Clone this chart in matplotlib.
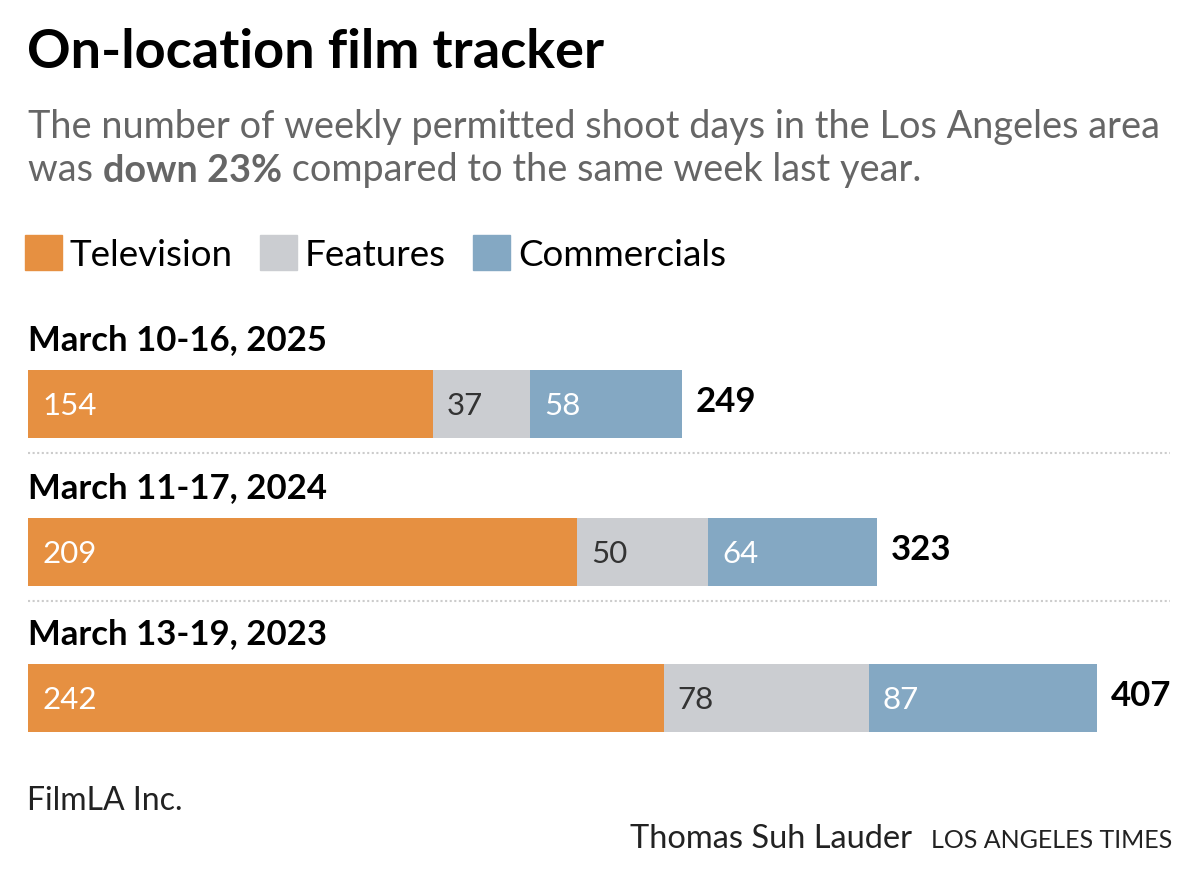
import matplotlib
matplotlib.use("Agg")
import matplotlib.pyplot as plt
from matplotlib.patches import Rectangle

#---- Data --------------------------------------------------------------------#

weeks = ["March 10-16, 2025", "March 11-17, 2024", "March 13-19, 2023"]
television = [154, 209, 242]
features = [37, 50, 78]
commercials = [58, 64, 87]
series_names = ["Television", "Features", "Commercials"]

#---- Style -------------------------------------------------------------------#

colors = ["#e69041", "#cbcdd1", "#84a8c3"]
label_colors = ["white", "#333333", "white"]
FONT = "Lato"
W, H = 1200, 881
px_per_unit = 2.627          # bar scale in pixels per shoot day
left = 28

plt.rcParams["font.family"] = [FONT, "DejaVu Sans"]

fig = plt.figure(figsize=(W / 100, H / 100), dpi=100)
ax = fig.add_axes([0, 0, 1, 1])
ax.set_xlim(-left / px_per_unit, (W - left) / px_per_unit)
ax.set_ylim(H, 0)            # y in pixels, top down
ax.axis("off")

def fx(x):
    return x / W

def fy(y):
    return 1 - y / H

#---- Header ------------------------------------------------------------------#

fig.text(fx(27), fy(68), "On-location film tracker", fontsize=39,
         fontweight="bold", color="black", va="baseline")
sub_kw = dict(fontsize=27.3, color="#666666", va="baseline")
fig.text(fx(28), fy(138),
         "The number of weekly permitted shoot days in the Los Angeles area",
         fontweight="normal", **sub_kw)
t = fig.text(fx(28), fy(181), "was ", fontweight="normal", **sub_kw)
fig.canvas.draw()
t2 = ax.annotate("down 23%", xycoords=t, xy=(1, 0), va="bottom",
                 fontsize=27.3, fontweight="bold", color="#666666")
fig.canvas.draw()
ax.annotate(" compared to the same week last year.", xycoords=t2, xy=(1, 0),
            va="bottom", fontsize=27.3, fontweight="normal", color="#666666")

#---- Legend ------------------------------------------------------------------#

x = 25
for name, c in zip(series_names, colors):
    fig.patches.append(Rectangle((fx(x), fy(270)), 37 / W, 35 / H,
                                 transform=fig.transFigure, color=c))
    txt = fig.text(fx(x + 45), fy(266), name, fontsize=26.5, color="black",
                   va="baseline")
    fig.canvas.draw()
    bb = txt.get_window_extent()
    x = bb.x1 + 27

#---- Bars --------------------------------------------------------------------#

row_y = [404, 552, 698]
bar_h = 68
for i, week in enumerate(weeks):
    y = row_y[i]
    vals = [television[i], features[i], commercials[i]]
    start = 0
    for v, c, lc in zip(vals, colors, label_colors):
        ax.barh(y, v, left=start, height=bar_h, color=c, linewidth=0)
        ax.text(start + 14 / px_per_unit, y + 2, str(v), fontsize=22.5,
                fontweight="normal", color=lc, va="center", ha="left")
        start += v
    ax.text(start + 14 / px_per_unit, y - 2, str(start), fontsize=25,
            fontweight="bold", color="black", va="center", ha="left")
    ax.text(0, y - 54, week, fontsize=25, fontweight="bold", color="black",
            va="baseline", ha="left")

for y in [453, 601]:
    ax.plot([0, 1142 / px_per_unit], [y, y], color="#cccccc", lw=1.5,
            linestyle=(0, (1, 1.2)))

#---- Footer ------------------------------------------------------------------#

fig.text(fx(27), fy(810), "FilmLA Inc.", fontsize=23, fontweight="normal",
         color="#222222", va="baseline")
r = fig.text(fx(1172), fy(848), "LOS ANGELES TIMES", fontsize=18,
             fontweight="normal", color="#222222", va="baseline", ha="right")
fig.canvas.draw()
bb = r.get_window_extent()
fig.text(fx(bb.x0 - 19), fy(848), "Thomas Suh Lauder", fontsize=23.5,
         fontweight="normal", color="#222222", va="baseline", ha="right")

plt.savefig("out.png", dpi=100)
